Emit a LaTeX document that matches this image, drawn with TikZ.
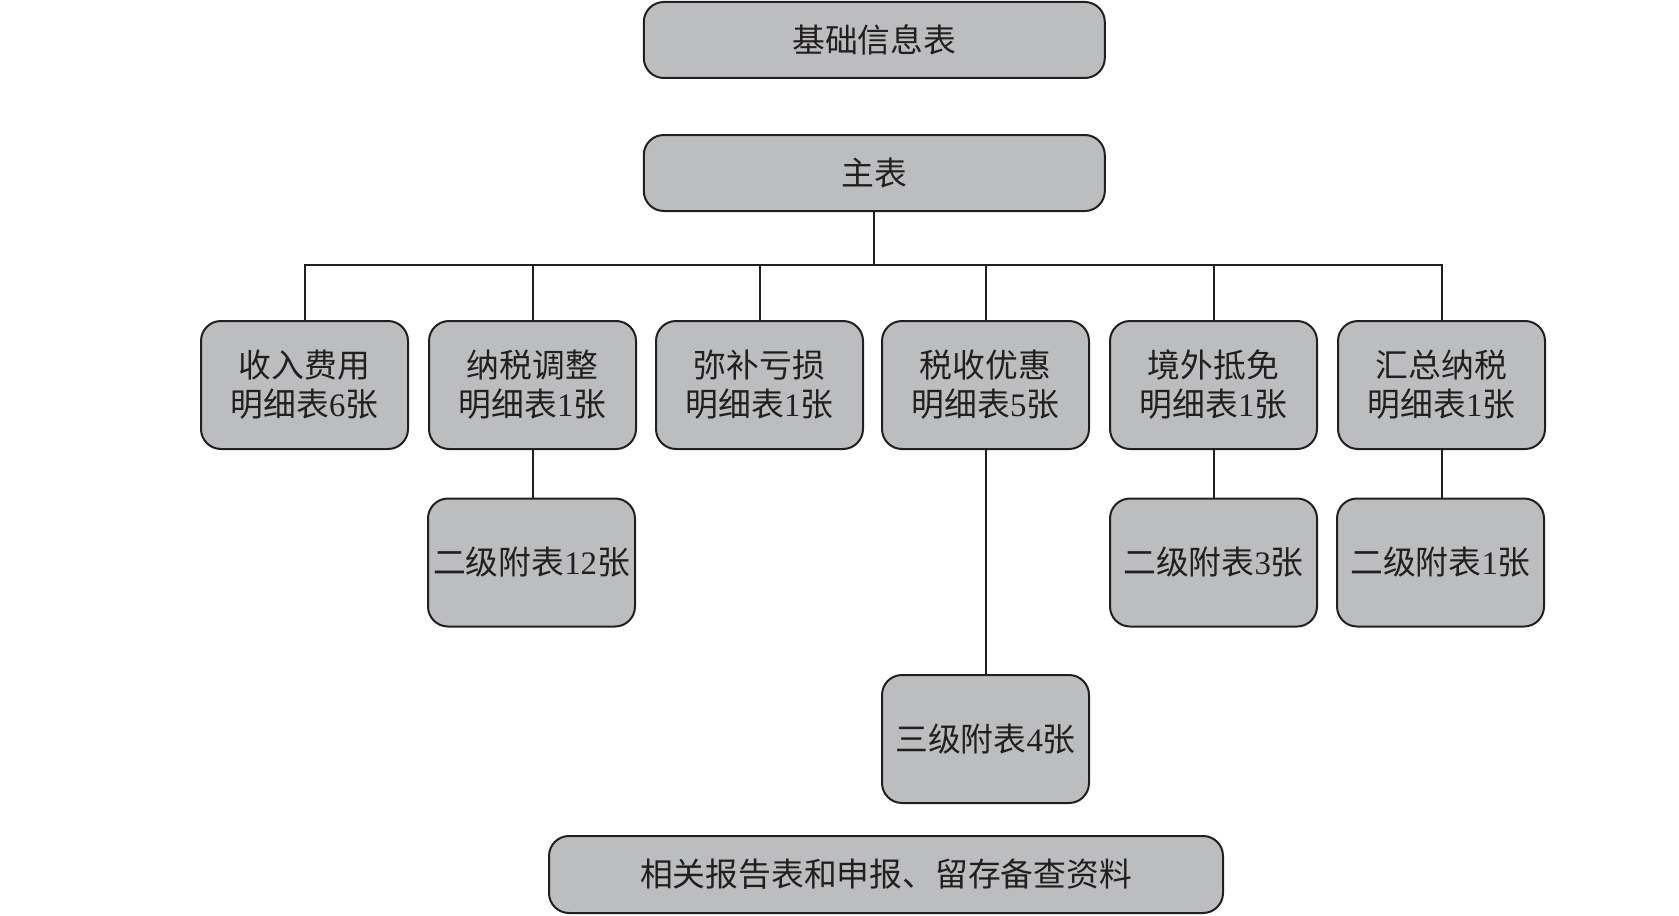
\documentclass[tikz,border=0pt]{standalone}
\usepackage{fontspec}
\setmainfont{Liberation Serif}
\newfontfamily\cjk{Noto Sans CJK SC}
\definecolor{boxfill}{HTML}{BCBDBF}
\definecolor{boxline}{HTML}{231F20}
\begin{document}
\begin{tikzpicture}[x=0.5pt,y=-0.5pt,
  tbox/.style={draw=boxline,fill=boxfill,line width=1pt,rounded corners=10pt,
    align=center,inner sep=0pt,text=boxline,
    font=\fontsize{16.4}{19.5}\selectfont},
  wide/.style={tbox,minimum width=230.5pt,minimum height=38pt},
  small/.style={tbox,minimum width=103.5pt,minimum height=64pt},
  conn/.style={draw=boxline,line width=1pt}]
\useasboundingbox (0,0) rectangle (1679,915);
\node[wide] (info) at (874.3,40) {{\cjk 基础信息表}};
\node[wide] (main) at (874.3,173) {{\cjk 主表}};
\coordinate (bar) at (874.3,264.5);
\node[small] (r1) at (304.5,385) {{\cjk 收入费用}\\{\cjk 明细表}6{\cjk 张}};
\node[small] (r2) at (532.5,385) {{\cjk 纳税调整}\\{\cjk 明细表}1{\cjk 张}};
\node[small] (r3) at (759.5,385) {{\cjk 弥补亏损}\\{\cjk 明细表}1{\cjk 张}};
\node[small] (r4) at (985.5,385) {{\cjk 税收优惠}\\{\cjk 明细表}5{\cjk 张}};
\node[small] (r5) at (1213.5,385) {{\cjk 境外抵免}\\{\cjk 明细表}1{\cjk 张}};
\node[small] (r6) at (1441.5,385) {{\cjk 汇总纳税}\\{\cjk 明细表}1{\cjk 张}};
\node[small] (s2) at (531.5,562.5) {{\cjk 二级附表}12{\cjk 张}};
\node[small] (s5) at (1213.5,562.5) {{\cjk 二级附表}3{\cjk 张}};
\node[small] (s6) at (1440.5,562.5) {{\cjk 二级附表}1{\cjk 张}};
\node[small] (t4) at (985.5,739) {{\cjk 三级附表}4{\cjk 张}};
\node[tbox,minimum width=337pt,minimum height=38.5pt] (bot) at (886,874.5) {{\cjk 相关报告表和申报、留存备查资料}};
\draw[conn] (main.south) -- (bar);
\draw[conn] (r1.north) -- (r1.north |- bar) -- (r6.north |- bar) -- (r6.north);
\foreach \n in {r2,r3,r4,r5} \draw[conn] (\n.north) -- (\n.north |- bar);
\draw[conn] (r2.south) -- (s2.north -| r2.south);
\draw[conn] (r4.south) -- (t4.north -| r4.south);
\draw[conn] (r5.south) -- (s5.north -| r5.south);
\draw[conn] (r6.south) -- (s6.north -| r6.south);
\end{tikzpicture}
\end{document}
